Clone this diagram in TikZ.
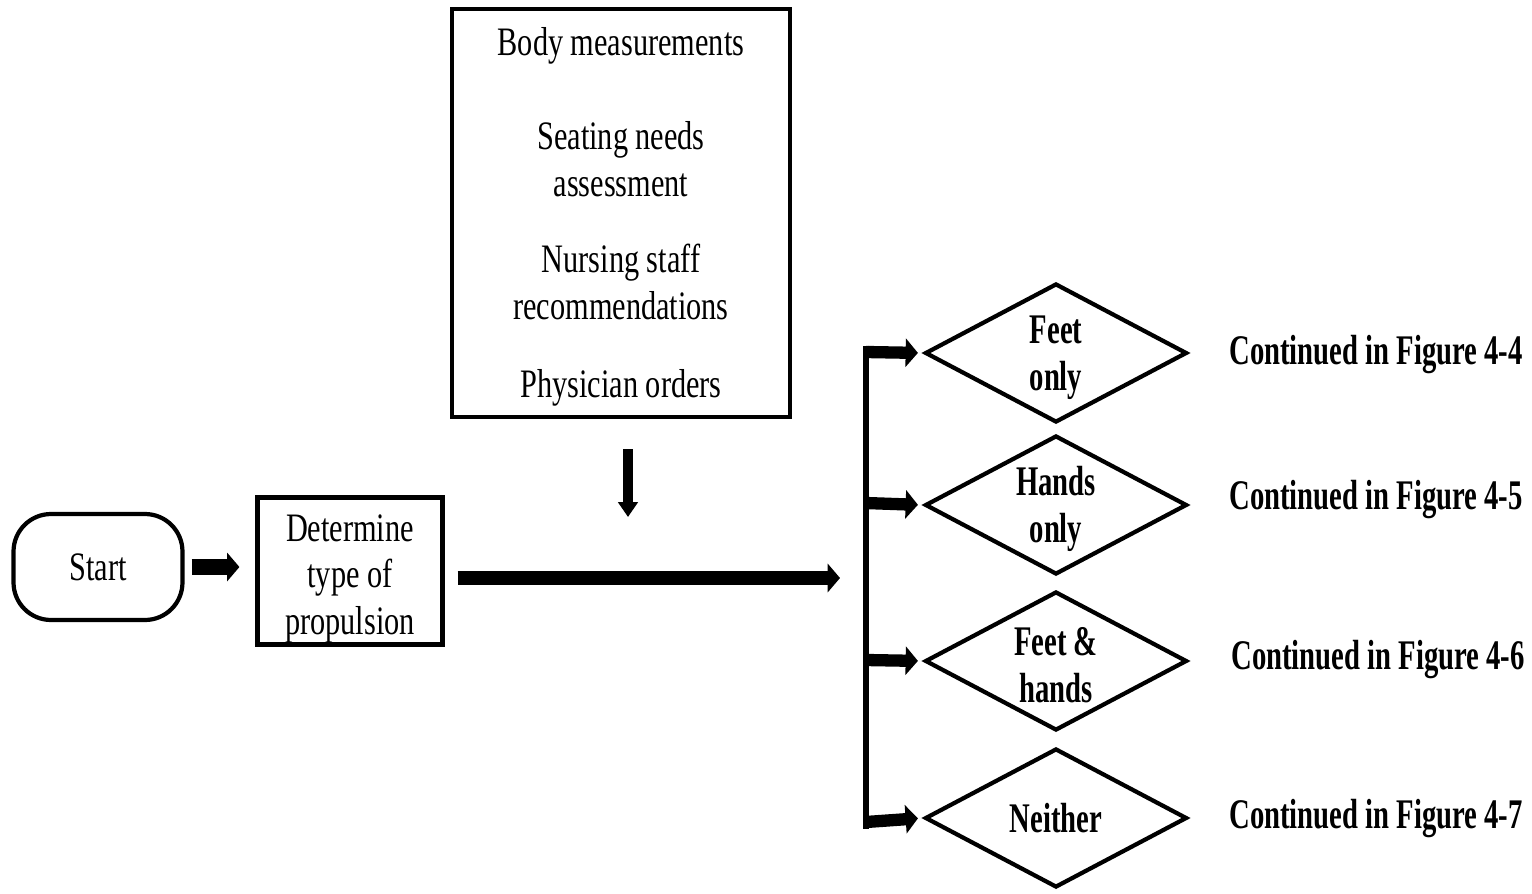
\documentclass[tikz,border=0pt]{standalone}
\usepackage{fontspec}
\setmainfont[FakeStretch=0.75]{Liberation Serif}
\newfontfamily\condbold[FakeStretch=0.68]{Liberation Serif}
\usetikzlibrary{positioning}
\usetikzlibrary{calc}
\usetikzlibrary{arrows.meta}
\usetikzlibrary{shapes.geometric}

\newcommand{\lift}[1]{\rule{0pt}{#1}}

\tikzset{
  box/.style={draw, line width=2.4pt, align=center, inner sep=0pt,
    font=\fontsize{23}{26.5}\selectfont},
  choice/.style={draw, diamond, aspect=1.9, line width=2.4pt, minimum width=5.24cm,
    minimum height=2.78cm, inner sep=0pt, align=center,
    font=\condbold\bfseries\fontsize{24}{27}\selectfont},
  cont/.style={font=\condbold\bfseries\fontsize{24}{27}\selectfont},
  fat/.style={line width=#1, -{Triangle[width=16pt,length=7pt]}},
  thin fat/.style={line width=#1, -{Triangle[width=11pt,length=8.5pt]}},
}

\begin{document}
\begin{tikzpicture}[x=0.02cm, y=-0.02cm]
            \useasboundingbox (0,0) rectangle (1532,893);

            \node[box, rounded corners=0.75cm, minimum width=3.38cm, minimum height=2.12cm] (start) at (98,567) {Start};
            \node[box, minimum width=3.7cm, minimum height=2.94cm] (det) at (350,571) {\lift{24pt}Determine\\type of\\propulsion};
            \node[box, minimum width=6.76cm, minimum height=8.16cm] (meas) at (621,213) {\lift{20.5pt}Body measurements\\[27pt]Seating needs\\assessment\\[17pt]Nursing staff\\recommendations\\[18pt]Physician orders};

            \node[choice] (feet) at (1056,353) {\lift{21pt}Feet\\only};
            \node[choice] (hands) at (1056,505) {\lift{21pt}Hands\\only};
            \node[choice] (both) at (1056,661) {\lift{21pt}Feet \&\\hands};
            \node[choice] (neither) at (1056,818) {Neither};

            \node[cont] (fig_4_4) at (1376,355) {Continued in Figure 4-4};
            \node[cont] (fig_4_5) at (1376,500) {Continued in Figure 4-5};
            \node[cont] (fig_4_6) at (1378,660) {Continued in Figure 4-6};
            \node[cont] (fig_4_7) at (1376,819) {Continued in Figure 4-7};

            \coordinate (hub) at (840,578);
            \coordinate (drop) at (628,517);
            \coordinate (b_1) at (866,352);
            \coordinate (b_2) at (866,503);
            \coordinate (b_3) at (866,660);
            \coordinate (b_4) at (866,822);

            \draw[fat=9pt, shorten <=0.14cm, shorten >=0.32cm] (start.east) -- (start.east -| det.west);
            \draw[fat=8pt, shorten <=0.26cm] (det.east |- hub) -- (hub);
            \draw[thin fat=5.7pt, shorten <=0.6cm] (meas.south -| drop) -- (drop);

            \draw[line width=3.4pt, shorten <=-0.13cm, shorten >=-0.13cm] (b_1) -- (b_4);
            \draw[fat=7pt, shorten >=0.1cm] (b_1) -- (feet.west);
            \draw[fat=7pt, shorten >=0.1cm] (b_2) -- (hands.west);
            \draw[fat=7pt, shorten >=0.1cm] (b_3) -- (both.west);
            \draw[fat=7pt, shorten >=0.1cm] (b_4) -- (neither.west);
        \end{tikzpicture}
\end{document}
